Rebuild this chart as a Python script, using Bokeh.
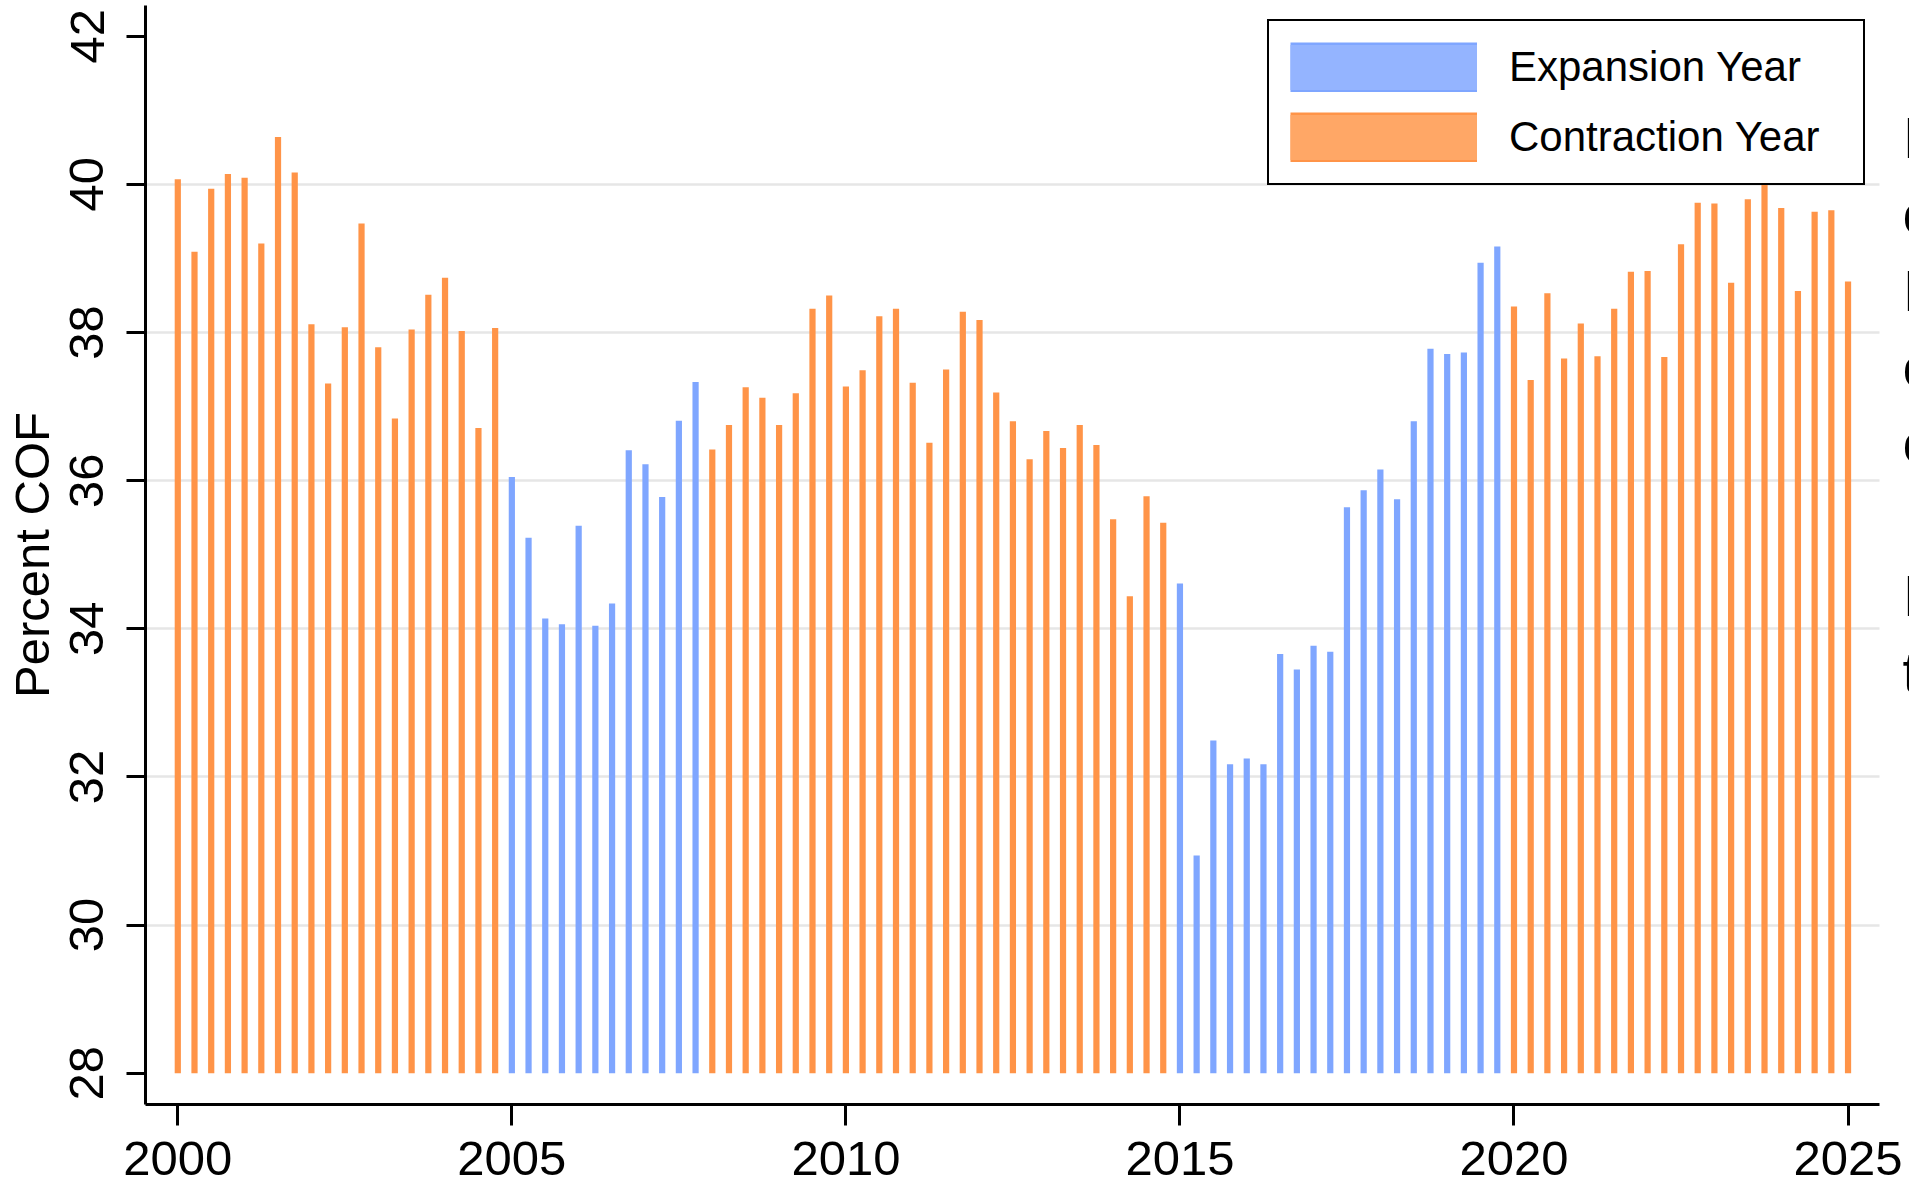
from bokeh.plotting import figure
from bokeh.models import Range1d, FixedTicker, Legend, LegendItem, Label, ColumnDataSource
from bokeh.embed import file_html
from bokeh.resources import INLINE

# ---------------- data ----------------
start_year = 2000
n_quarters = 101
quarters = [start_year + 0.25 * i for i in range(n_quarters)]

cof_values = [
    40.07, 39.09, 39.94, 40.14, 40.09, 39.20, 40.64, 40.16,   # 2000-2001
    38.11, 37.31, 38.07, 39.47, 37.80, 36.84, 38.04, 38.51,   # 2002-2003
    38.74, 38.02, 36.71, 38.06,                               # 2004
    36.05, 35.23, 34.14, 34.06,                               # 2005
    35.39, 34.04, 34.34, 36.41,                               # 2006
    36.22, 35.78, 36.81, 37.33,                               # 2007
    36.42, 36.75, 37.26, 37.12,                               # 2008
    36.75, 37.18, 38.32, 38.50,                               # 2009
    37.27, 37.49, 38.22, 38.32,                               # 2010
    37.32, 36.51, 37.50, 38.28,                               # 2011
    38.17, 37.19, 36.80, 36.29,                               # 2012
    36.67, 36.44, 36.75, 36.48,                               # 2013
    35.48, 34.44, 35.79, 35.43,                               # 2014
    34.61, 30.94, 32.49, 32.17,                               # 2015
    32.25, 32.17, 33.66, 33.45,                               # 2016
    33.77, 33.69, 35.64, 35.87,                               # 2017
    36.15, 35.75, 36.80, 37.78,                               # 2018
    37.71, 37.73, 38.94, 39.16,                               # 2019
    38.35, 37.36, 38.53, 37.65,                               # 2020
    38.12, 37.68, 38.32, 38.82,                               # 2021
    38.83, 37.67, 39.19, 39.75,                               # 2022
    39.74, 38.67, 39.80, 40.02,                               # 2023
    39.68, 38.56, 39.63, 39.65,                               # 2024
    38.69,                                                    # 2025
]

# (phase, number of consecutive quarters)
phase_segments = [
    ("Contraction Year", 20),
    ("Expansion Year", 12),
    ("Contraction Year", 28),
    ("Expansion Year", 20),
    ("Contraction Year", 21),
]
legend_order = ["Expansion Year", "Contraction Year"]

y_ticks = [28, 30, 32, 34, 36, 38, 40, 42]
grid_ticks = [30, 32, 34, 36, 38, 40]
x_ticks = [2000, 2005, 2010, 2015, 2020, 2025]
baseline_value = 28

# text cut off at the right edge of the reference (only first letters visible)
side_text_lines = ["I", "c", "I", "c", "c", "", "I", "t"]

# ---------------- styling ----------------
FONT = "Liberation Sans"
bar_colors = {"Expansion Year": "#7FA6FF", "Contraction Year": "#FF9448"}
legend_fill = {"Expansion Year": "#94B4FF", "Contraction Year": "#FFA766"}

phases = []
for name, count in phase_segments:
    phases.extend([name] * count)

src = ColumnDataSource(dict(
    x=quarters,
    top=cof_values,
    color=[bar_colors[ph] for ph in phases],
))

X_START, X_AXIS_END, X_END = 1999.5165, 2025.465, 2025.92
p = figure(width=1909, height=1188, output_backend="svg", toolbar_location=None,
           x_range=Range1d(X_START, X_END), y_range=Range1d(27.5774, 42.4145),
           min_border_left=145, min_border_right=0, min_border_top=5, min_border_bottom=84)
p.outline_line_color = None
p.background_fill_color = "white"
p.border_fill_color = "white"

p.xgrid.visible = False
p.ygrid.ticker = FixedTicker(ticks=grid_ticks)
p.ygrid.grid_line_color = "#e6e6e6"
p.ygrid.grid_line_width = 2.5
if "cross_bounds" in p.ygrid[0].properties():
    p.ygrid[0].cross_bounds = (X_START, X_AXIS_END)

p.vbar(x="x", top="top", bottom=baseline_value, width=0.093, source=src,
       fill_color="color", line_color=None)

# axes
for ax in (p.xaxis[0], p.yaxis[0]):
    ax.axis_line_color = "black"
    ax.axis_line_width = 3
    ax.major_tick_line_color = "black"
    ax.major_tick_line_width = 3
    ax.major_tick_in = 0
    ax.minor_tick_line_color = None
    ax.major_label_text_font = FONT
    ax.major_label_text_font_size = "49px"
    ax.major_label_text_color = "black"

p.xaxis.ticker = FixedTicker(ticks=x_ticks)
p.xaxis.bounds = (X_START, X_AXIS_END)
p.xaxis.major_tick_out = 21
p.xaxis.major_label_standoff = 16

p.yaxis.ticker = FixedTicker(ticks=y_ticks)
p.yaxis.major_tick_out = 19
p.yaxis.major_label_standoff = 23
p.yaxis.major_label_orientation = "vertical"
p.yaxis.axis_label = "Percent COF"
p.yaxis.axis_label_text_font = FONT
p.yaxis.axis_label_text_font_size = "49px"
p.yaxis.axis_label_text_font_style = "normal"
p.yaxis.axis_label_text_color = "black"
p.yaxis.axis_label_standoff = 9

# legend swatches: thick line glyphs (outline colour + lighter fill), nothing drawn in the plot
nan = float("nan")
items = []
for name in legend_order:
    r_edge = p.line(x=[nan], y=[nan], line_width=50, line_color=bar_colors[name], line_cap="butt")
    r_fill = p.line(x=[nan], y=[nan], line_width=45, line_color=legend_fill[name], line_cap="butt")
    items.append(LegendItem(label=name, renderers=[r_edge, r_fill]))

legend = Legend(items=items, location=(1122, 919),
                glyph_width=187, glyph_height=50, spacing=20, padding=21,
                label_standoff=32, label_width=333,
                label_text_font=FONT, label_text_font_size="42px",
                label_text_color="black",
                border_line_color="black", border_line_width=2.5, border_line_alpha=1.0,
                background_fill_color="white", background_fill_alpha=1.0)
p.add_layout(legend)

# cut-off text at the right edge (screen units from the frame's bottom-left)
first_baseline = 967
line_step = 76.3
for i, t in enumerate(side_text_lines):
    if not t:
        continue
    p.add_layout(Label(x=1757, y=first_baseline - i * line_step, x_units="screen", y_units="screen",
                       text=t, text_font=FONT, text_font_size="58px",
                       text_color="black", text_baseline="alphabetic"))

open("out.html", "w").write(file_html(p, INLINE))
